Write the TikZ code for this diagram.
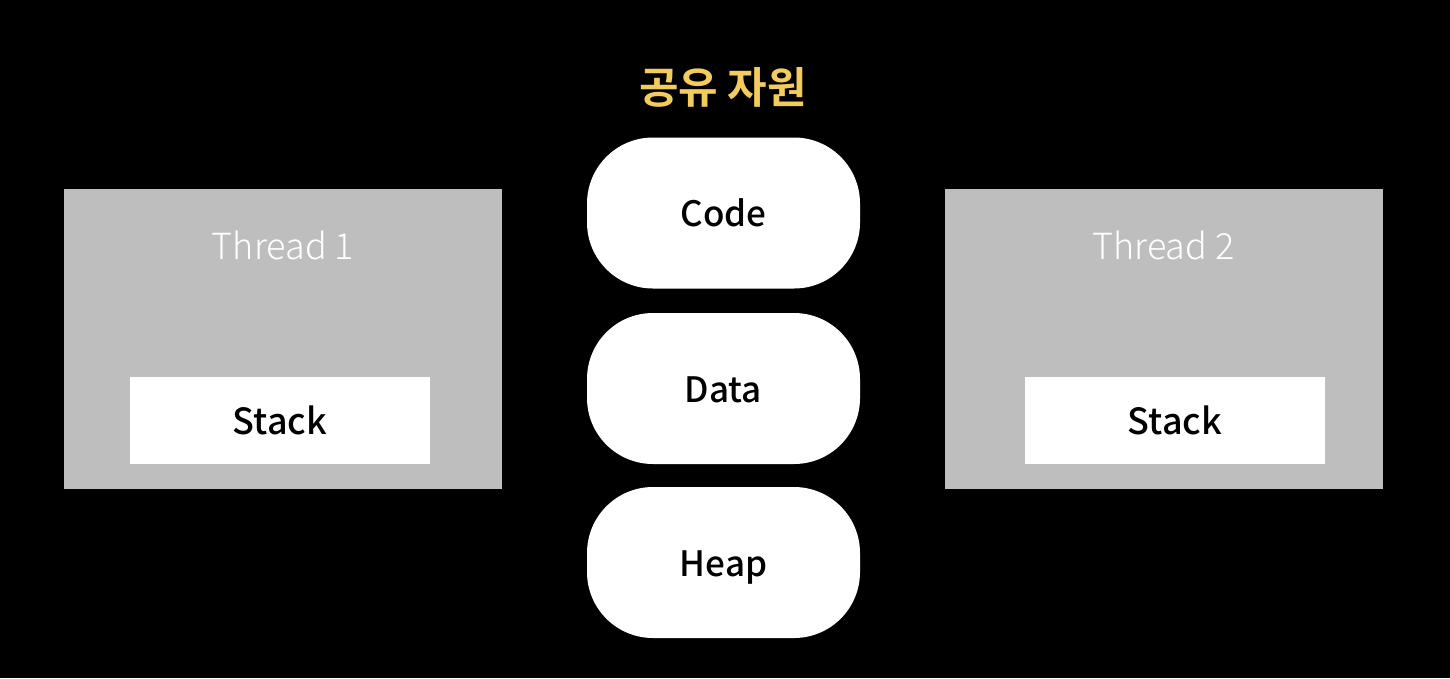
\documentclass[tikz,border=0pt]{standalone}
\usepackage{fontspec}
\setmainfont{Noto Sans CJK KR}
\newfontfamily\titlefont{Noto Sans CJK KR Bold}
\newfontfamily\boxfont{Noto Sans CJK KR Medium}
\newfontfamily\lightfont{Noto Sans CJK KR Light}
\definecolor{titleyellow}{HTML}{F2CC5C}
\definecolor{threadgray}{HTML}{BEBEBE}
\tikzset{
  thread/.style={fill=threadgray, minimum width=438pt, minimum height=300pt, inner sep=0pt},
  threadlabel/.style={text=white, font=\lightfont\fontsize{36}{40}\selectfont, inner sep=0pt,
    text height=27pt, text depth=0pt},
  stackbox/.style={fill=white, minimum width=300pt, minimum height=87pt, inner sep=0pt,
    font=\boxfont\fontsize{36}{40}\selectfont, text height=27pt, text depth=0pt},
  pill/.style={fill=white, rounded corners=66pt, minimum width=273pt, minimum height=151pt,
    inner sep=0pt, font=\boxfont\fontsize{35}{40}\selectfont, text height=27pt, text depth=0pt}
}
\begin{document}
\begin{tikzpicture}[x=1pt, y=-1pt]
    \fill [black] (0,0) rectangle (1450,678);
    \useasboundingbox (0,0) rectangle (1450,678);
    % shared resources
    \node [text=titleyellow, font=\titlefont\fontsize{43}{46}\selectfont, inner sep=0pt] (title) at (723,87) {공유 자원};
    \node [pill] (code) at (723.5,213) {Code};
    \node [pill] (data) at (723.5,388.5) {Data};
    \node [pill] (heap) at (723.5,562.5) {Heap};
    % threads
    \node [thread] (thread1) at (283,339) {};
    \node [threadlabel] (thread1label) at (283,246) {Thread 1};
    \node [stackbox] (stack1) at (280,420.5) {Stack};
    \node [thread] (thread2) at (1163.5,339) {};
    \node [threadlabel] (thread2label) at (1163.5,246) {Thread 2};
    \node [stackbox] (stack2) at (1175,420.5) {Stack};
\end{tikzpicture}
\end{document}
